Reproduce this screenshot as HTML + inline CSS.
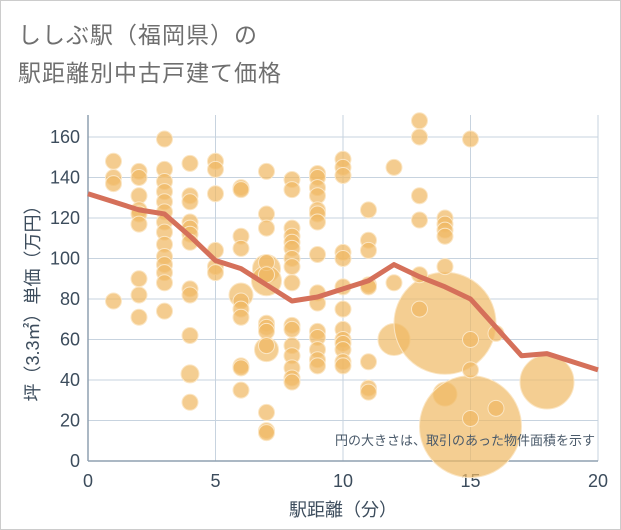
<!DOCTYPE html>
<html><head><meta charset="utf-8"><style>
body{margin:0;background:#fff;}
#wrap{position:relative;width:619px;height:528px;border:1px solid #ccc;background:#fff;font-family:"Liberation Sans","Noto Sans CJK JP",sans-serif;}
.title{position:absolute;left:17px;font-size:23px;color:#6f6f6f;letter-spacing:1px;}
</style></head><body>
<div id="wrap">
<div class="title" style="top:15px">ししぶ駅（福岡県）の</div>
<div class="title" style="top:53px">駅距離別中古戸建て価格</div>
<svg id="chart" width="619" height="528" style="position:absolute;left:0;top:0"></svg>
</div>
<script>
const xTicks=[0,5,10,15,20];
const yTicks=[0,20,40,60,80,100,120,140,160];
const pts=[[1,148],[1,140],[1,137],[1,79],
[2,143],[2,140],[2,131],[2,124],[2,122],[2,117],[2,90],[2,82],[2,71],
[3,159],[3,144],[3,138],[3,133],[3,128],[3,123],[3,118],[3,113],[3,107],[3,101],[3,97],[3,93],[3,88],[3,74],
[4,147],[4,131],[4,128],[4,118],[4,115],[4,112],[4,108],[4,85],[4,82],[4,62],[4,29],
[5,148],[5,144],[5,132],[5,104],[5,96],[5,93],
[6,135],[6,134],[6,111],[6,105],[6,79],[6,75],[6,71],[6,47],[6,46],[6,35],
[7,143],[7,122],[7,115],[7,98],[7,92],[7,68],[7,66],[7,64],[7,57],[7,24],[7,15],[7,14],
[8,139],[8,134],[8,115],[8,111],[8,108],[8,105],[8,100],[8,96],[8,88],[8,67],[8,65],[8,57],[8,52],[8,46],[8,41],[8,39],
[9,142],[9,140],[9,135],[9,131],[9,124],[9,122],[9,118],[9,102],[9,83],[9,78],[9,64],[9,61],[9,55],[9,50],[9,47],
[10,149],[10,145],[10,141],[10,103],[10,100],[10,86],[10,75],[10,65],[10,60],[10,58],[10,55],[10,49],[10,47],
[11,124],[11,109],[11,104],[11,87],[11,86],[11,49],[11,36],[11,34],
[12,145],[12,88],[13,168],[13,160],[13,131],[13,119],[13,92],[13,75],
[14,120],[14,117],[14,114],[14,111],[14,96],[15,159],[15,60],[15,45],[15,21],[16,63],[16,26]];
const bigPts=[[4,43,9],[6,82,12],[7,95,14],[7,89,15],[7,55,12],[12,60,16],[14,68,51],[14,33,12],[15,17,51],[18,39,27]];
const lineX=[0,1,2,3,4,5,6,7,8,9,10,11,12,13,14,15,16,17,18,19,20];
const lineY=[132,128,124,122,111,99,95,87,79,81,85,89,97,91,86,80,66,52,53,49,45];
const X0=87,X1=597,Y0=460,Y1=136;
const sx=v=>X0+(X1-X0)*v/20, sy=v=>Y0-(Y0-Y1)*v/160;
const svg=document.getElementById('chart');const NS='http://www.w3.org/2000/svg';
function mk(t,a,p){const e=document.createElementNS(NS,t);for(const k in a)e.setAttribute(k,a[k]);(p||svg).appendChild(e);return e;}
mk('rect',{x:X0,y:Y1-22,width:X1-X0,height:Y0-Y1+22,fill:'#fff'});
yTicks.forEach(v=>{const l=mk('line',{x1:X0,x2:X1,y1:sy(v),y2:sy(v),stroke:'#c7d3df','stroke-width':1});

const t=mk('text',{x:X0-8,y:sy(v)+6,'text-anchor':'end','font-size':18,fill:'#3c4c5c'});t.textContent=v;
});
xTicks.forEach(v=>{const l=mk('line',{x1:sx(v),x2:sx(v),y1:Y1-22,y2:Y0,stroke:'#c7d3df','stroke-width':1});

const t=mk('text',{x:sx(v),y:Y0+26,'text-anchor':'middle','font-size':18,fill:'#3c4c5c'});t.textContent=v;
});
mk('line',{x1:X0,x2:X0,y1:Y1-22,y2:Y0,stroke:'#8fa0b0','stroke-width':1.5});
mk('line',{x1:X0,x2:X1,y1:Y0,y2:Y0,stroke:'#8fa0b0','stroke-width':1.5});
bigPts.forEach(p=>{const c=mk('circle',{cx:sx(p[0]),cy:sy(p[1]),r:p[2],fill:'rgba(240,185,100,0.7)',stroke:'#fbe6c4','stroke-width':1});
});
pts.forEach(p=>{const c=mk('circle',{cx:sx(p[0]),cy:sy(p[1]),r:8,fill:'rgba(240,185,100,0.72)',stroke:'#fbe6c4','stroke-width':1});
});
const d=lineX.map((x,i)=>(i?'L':'M')+sx(x)+','+sy(lineY[i])).join(' ');
const pl=mk('path',{d:d,fill:'none',stroke:'#d5705a','stroke-width':5,'stroke-linejoin':'round'});

const note=mk('text',{x:594,y:444,'text-anchor':'end','font-size':13,fill:'#4a5a6a'});note.textContent='円の大きさは、取引のあった物件面積を示す';

const xt=mk('text',{x:(X0+X1)/2,y:515,'text-anchor':'middle','font-size':18,fill:'#3c4c5c'});xt.textContent='駅距離（分）';

const yt=mk('text',{x:0,y:0,'text-anchor':'middle','font-size':18,fill:'#3c4c5c',transform:'translate(38,'+((Y0+Y1)/2)+') rotate(-90)'});yt.textContent='坪（3.3㎡）単価（万円）';

</script>
</body></html>
